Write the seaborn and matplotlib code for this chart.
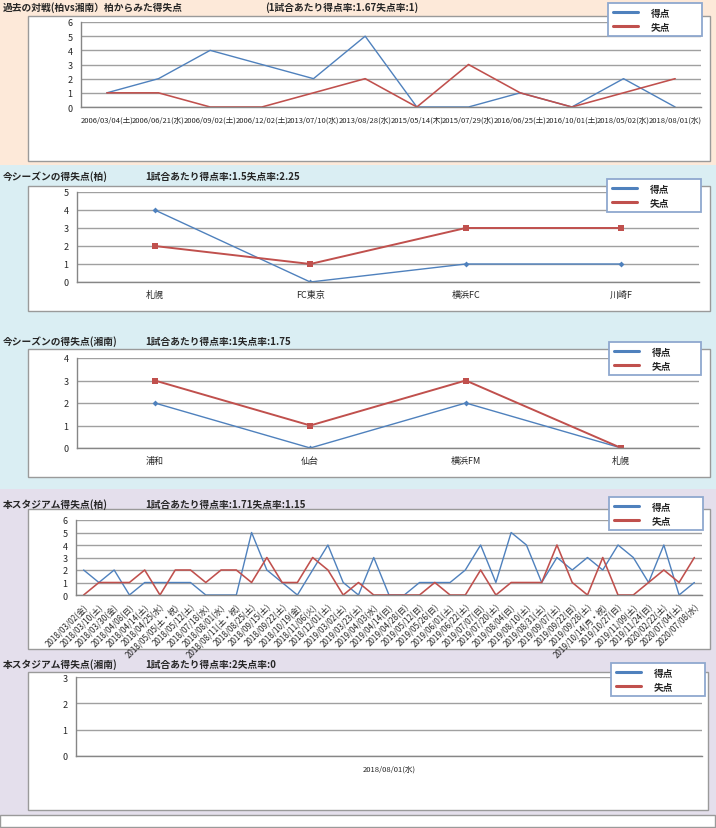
import numpy as np
import pandas as pd
import matplotlib
matplotlib.use("Agg")
import matplotlib.pyplot as plt
import seaborn as sns
from matplotlib.patches import Rectangle
from matplotlib.lines import Line2D

# ---------------- data ----------------
SERIES = ["得点", "失点"]

h2h_dates = ["2006/03/04(土)", "2006/06/21(水)", "2006/09/02(土)", "2006/12/02(土)",
             "2013/07/10(水)", "2013/08/28(水)", "2015/05/14(木)", "2015/07/29(水)",
             "2016/06/25(土)", "2016/10/01(土)", "2018/05/02(水)", "2018/08/01(水)"]
h2h_for = [1, 2, 4, 3, 2, 5, 0, 0, 1, 0, 2, 0]
h2h_against = [1, 1, 0, 0, 1, 2, 0, 3, 1, 0, 1, 2]

kashiwa_opp = ["札幌", "FC東京", "横浜FC", "川崎F"]
kashiwa_for = [4, 0, 1, 1]
kashiwa_against = [2, 1, 3, 3]

shonan_opp = ["浦和", "仙台", "横浜FM", "札幌"]
shonan_for = [2, 0, 2, 0]
shonan_against = [3, 1, 3, 0]

stadium_k_dates = [
    "2018/03/02(金)", "2018/03/10(土)", "2018/03/30(金)", "2018/04/08(日)", "2018/04/14(土)",
    "2018/04/25(水)", "2018/05/05(土・祝)", "2018/05/12(土)", "2018/07/18(水)", "2018/08/01(水)",
    "2018/08/11(土・祝)", "2018/08/25(土)", "2018/09/15(土)", "2018/09/22(土)", "2018/10/19(金)",
    "2018/11/06(火)", "2018/12/01(土)", "2019/03/02(土)", "2019/03/23(土)", "2019/04/03(水)",
    "2019/04/14(日)", "2019/04/28(日)", "2019/05/12(日)", "2019/05/26(日)", "2019/06/01(土)",
    "2019/06/22(土)", "2019/07/07(日)", "2019/07/20(土)", "2019/08/04(日)", "2019/08/10(土)",
    "2019/08/31(土)", "2019/09/07(土)", "2019/09/22(日)", "2019/09/28(土)", "2019/10/14(月・祝)",
    "2019/10/27(日)", "2019/11/09(土)", "2019/11/24(日)", "2020/02/22(土)", "2020/07/04(土)",
    "2020/07/08(水)"]
stadium_k_for = [2, 1, 2, 0, 1, 1, 1, 1, 0, 0, 0, 5, 2, 1, 0, 2, 4, 1, 0, 3, 0,
                 0, 1, 1, 1, 2, 4, 1, 5, 4, 1, 3, 2, 3, 2, 4, 3, 1, 4, 0, 1]
stadium_k_against = [0, 1, 1, 1, 2, 0, 2, 2, 1, 2, 2, 1, 3, 1, 1, 3, 2, 0, 1, 0, 0,
                     0, 0, 1, 0, 0, 2, 0, 1, 1, 1, 4, 1, 0, 3, 0, 0, 1, 2, 1, 3]

stadium_s_dates = ["2018/08/01(水)"]
stadium_s_for = [2]
stadium_s_against = [0]

titles = ["過去の対戦(柏vs湘南）柏からみた得失点", "今シーズンの得失点(柏)", "今シーズンの得失点(湘南)",
          "本スタジアム得失点(柏)", "本スタジアム得失点(湘南)"]
subtitles = ["(1試合あたり得点率:1.67失点率:1)", "1試合あたり得点率:1.5失点率:2.25",
             "1試合あたり得点率:1失点率:1.75", "1試合あたり得点率:1.71失点率:1.15",
             "1試合あたり得点率:2失点率:0"]

# ---------------- style ----------------
sns.set_style("white")
plt.rcParams["font.family"] = ["Noto Sans CJK JP", "DejaVu Sans"]

BLUE = "#4F81BD"
RED = "#C0504D"
GRID = "#A0A0A0"
AXIS = "#868686"

W, H = 716, 829
fig = plt.figure(figsize=(W / 100, H / 100), dpi=100)


def rect_px(x0, y0, x1, y1, **kw):
    r = Rectangle((x0 / W, 1 - y1 / H), (x1 - x0) / W, (y1 - y0) / H,
                  transform=fig.transFigure, **kw)
    fig.patches.append(r)


def axes_px(x0, y0, x1, y1):
    ax = fig.add_axes([x0 / W, 1 - y1 / H, (x1 - x0) / W, (y1 - y0) / H])
    ax.set_facecolor("none")
    return ax


# section backgrounds
rect_px(0, 0, W, 166, facecolor="#FDE9D9", edgecolor="none", zorder=-10)
rect_px(0, 166, W, 490, facecolor="#DAEEF3", edgecolor="none", zorder=-10)
rect_px(0, 490, W, 816, facecolor="#E4DFEC", edgecolor="none", zorder=-10)
rect_px(0, 816, W - 1, H - 1, facecolor="white", edgecolor="#9A9A9A", lw=1, zorder=-10)

# white chart boxes
boxes = [(28, 17, 710, 162), (28, 187, 710, 312), (28, 350, 710, 478),
         (28, 510, 710, 650), (28, 673, 708, 811)]
for b in boxes:
    rect_px(*b, facecolor="white", edgecolor="#9A9A9A", lw=1, zorder=-5)

# titles
title_y = [8, 177, 342, 505, 665]
sub_x = [265, 145, 145, 145, 145]
for t, s, y, sx in zip(titles, subtitles, title_y, sub_x):
    fig.text(3 / W, 1 - y / H, t, fontsize=7, fontweight="bold", va="center", ha="left")
    fig.text(sx / W, 1 - y / H, s, fontsize=7, fontweight="bold", va="center", ha="left")


def make_df(cats, f, a):
    n = len(cats)
    return pd.DataFrame({"cat": list(cats) * 2, "val": list(f) + list(a),
                         "series": [SERIES[0]] * n + [SERIES[1]] * n})


def draw_panel(ax, cats, f, a, ymax, markers=False, rot=False, xfs=5.5, lw=1.0):
    df = make_df(cats, f, a)
    kw = dict(data=df, x="cat", y="val", hue="series", hue_order=SERIES,
              palette=[BLUE, RED], sort=False, errorbar=None, legend=False, ax=ax,
              linewidth=lw)
    if markers:
        kw.update(style="series", style_order=SERIES, markers={"得点": "D", "失点": "s"},
                  dashes=False, markersize=3, markeredgewidth=0)
    sns.lineplot(**kw)
    if markers:
        ax.lines[1].set_linewidth(1.4)
        ax.lines[1].set_markersize(4.5)
        ax.lines[0].set_markersize(3)
    else:
        ax.lines[1].set_linewidth(1.15)
    n = len(cats)
    ax.set_xlim(-0.5, n - 0.5)
    ax.set_ylim(0, ymax)
    ax.set_yticks(range(ymax + 1))
    ax.set_xticks(range(n))
    if rot:
        ax.set_xticklabels(cats, rotation=45, ha="right", rotation_mode="anchor", fontsize=xfs)
    else:
        ax.set_xticklabels(cats, fontsize=xfs)
    ax.set_xticks(np.arange(n + 1) - 0.5, minor=True)
    ax.tick_params(axis="x", which="major", length=0, pad=6 if not rot else 5)
    ax.tick_params(axis="x", which="minor", length=4, width=0.8, color=AXIS, direction="out")
    ax.tick_params(axis="y", length=3, width=0.8, color=AXIS, direction="out",
                   labelsize=6.5, pad=3)
    ax.set_xlabel("")
    ax.set_ylabel("")
    ax.grid(axis="y", color=GRID, lw=1.0)
    ax.grid(axis="x", visible=False)
    ax.set_axisbelow(True)
    for sp in ["top", "right"]:
        ax.spines[sp].set_visible(False)
    for sp in ["left", "bottom"]:
        ax.spines[sp].set_color(AXIS)
        ax.spines[sp].set_linewidth(1.0)


def add_legend(ax, x0, y0, x1, y1):
    handles = [Line2D([], [], color=BLUE, lw=2.2), Line2D([], [], color=RED, lw=2.2)]
    leg = ax.legend(handles, SERIES, loc="upper left",
                    bbox_to_anchor=(x0 / W, 1 - y1 / H, (x1 - x0) / W, (y1 - y0) / H),
                    bbox_transform=fig.transFigure, mode="expand", fontsize=7,
                    handlelength=2.6, handletextpad=1.3, borderpad=0.5,
                    labelspacing=0.35, borderaxespad=0, fancybox=False, framealpha=1,
                    edgecolor="#8FA8CF", facecolor="white")
    leg.get_frame().set_linewidth(1.3)
    for t in leg.get_texts():
        t.set_fontweight("bold")
    return leg


ax1 = axes_px(81, 23, 701, 108)
draw_panel(ax1, h2h_dates, h2h_for, h2h_against, 6, xfs=5.5)
add_legend(ax1, 608, 4, 702, 35)

ax2 = axes_px(77, 193, 699, 283)
draw_panel(ax2, kashiwa_opp, kashiwa_for, kashiwa_against, 5, markers=True, xfs=6.5)
add_legend(ax2, 607, 180, 701, 212)

ax3 = axes_px(77, 359, 699, 449)
draw_panel(ax3, shonan_opp, shonan_for, shonan_against, 4, markers=True, xfs=6.5)
add_legend(ax3, 609, 343, 701, 376)

ax4 = axes_px(76, 521, 702, 596)
draw_panel(ax4, stadium_k_dates, stadium_k_for, stadium_k_against, 6, rot=True, xfs=5.8)
add_legend(ax4, 609, 498, 703, 530)

ax5 = axes_px(76, 678, 702, 757)
draw_panel(ax5, stadium_s_dates, stadium_s_for, stadium_s_against, 3, xfs=5.5)
add_legend(ax5, 611, 664, 705, 697)

fig.savefig("out.png", dpi=100)
